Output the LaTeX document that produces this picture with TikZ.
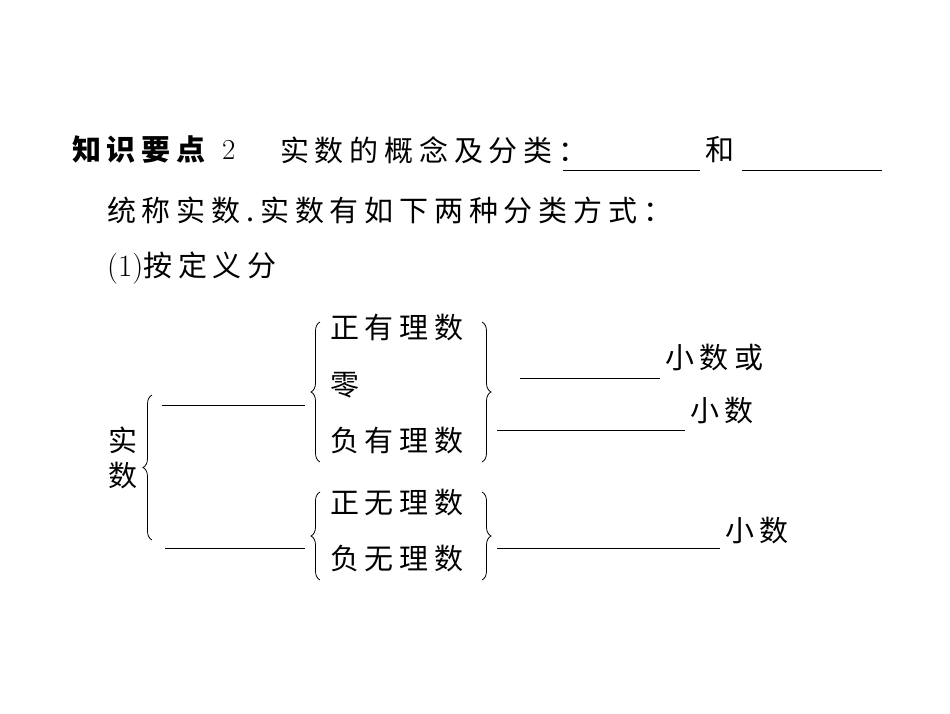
\documentclass[tikz,border=0pt]{standalone}
\usepackage{fontspec}
\newfontfamily\cjk[LetterSpace=20]{Noto Sans CJK SC}
\usetikzlibrary{decorations.pathreplacing}
\begin{document}
\begin{tikzpicture}
    [x=1pt, y=-1pt, every node/.style={inner sep=0pt, anchor=west, font=\cjk\fontsize{29}{32}\selectfont},
     blank/.style={line width=0.8pt},
     brace/.style={decorate, decoration={brace, amplitude=9pt}, line width=0.8pt}]
  \useasboundingbox (0,0) rectangle (950,713);

  % heading lines
  \node (head) at (72,150) {\bfseries 知识要点};
  \node (num) at (222,150) {\textrm{2}};
  \node (concept) at (280,150) {实数的概念及分类：};
  \coordinate (b1l) at (563,170);
  \coordinate (b1r) at (700,170);
  \node (and) at (705,150) {和};
  \coordinate (b2l) at (742,170);
  \coordinate (b2r) at (882,170);
  \node (ways) at (107,210) {统称实数.实数有如下两种分类方式：};
  \node (def) at (107,268) {\textrm{\fontsize{31}{32}\selectfont(1)}按定义分};
  \draw[blank] (b1l) -- (b1r);
  \draw[blank] (b2l) -- (b2r);

  % left part
  \node (shi) at (108,440) {实};
  \node (shu) at (108,475) {数};
  \draw[brace] (152,540) -- (152,395);
  \coordinate (r1l) at (162,405);
  \coordinate (r1r) at (305,405);
  \coordinate (r2l) at (165,548);
  \coordinate (r2r) at (305,548);
  \draw[blank] (r1l) -- (r1r);
  \draw[blank] (r2l) -- (r2r);

  % rational numbers
  \draw[brace] (320,462) -- (320,322);
  \node (pos) at (330,328) {正有理数};
  \node (zero) at (330,385) {零};
  \node (neg) at (330,440) {负有理数};
  \draw[brace] (482,322) -- (482,462);
  \coordinate (q1l) at (520,378);
  \coordinate (q1r) at (660,378);
  \coordinate (q2l) at (497,430);
  \coordinate (q2r) at (685,430);
  \draw[blank] (q1l) -- (q1r);
  \draw[blank] (q2l) -- (q2r);
  \node (dec1) at (665,357) {小数或};
  \node (dec2) at (690,410) {小数};

  % irrational numbers
  \draw[brace] (320,580) -- (320,492);
  \node (ipos) at (330,502) {正无理数};
  \node (ineg) at (330,558) {负无理数};
  \draw[brace] (482,492) -- (482,580);
  \coordinate (p1l) at (497,548);
  \coordinate (p1r) at (720,548);
  \draw[blank] (p1l) -- (p1r);
  \node (dec3) at (725,530) {小数};
\end{tikzpicture}
\end{document}
